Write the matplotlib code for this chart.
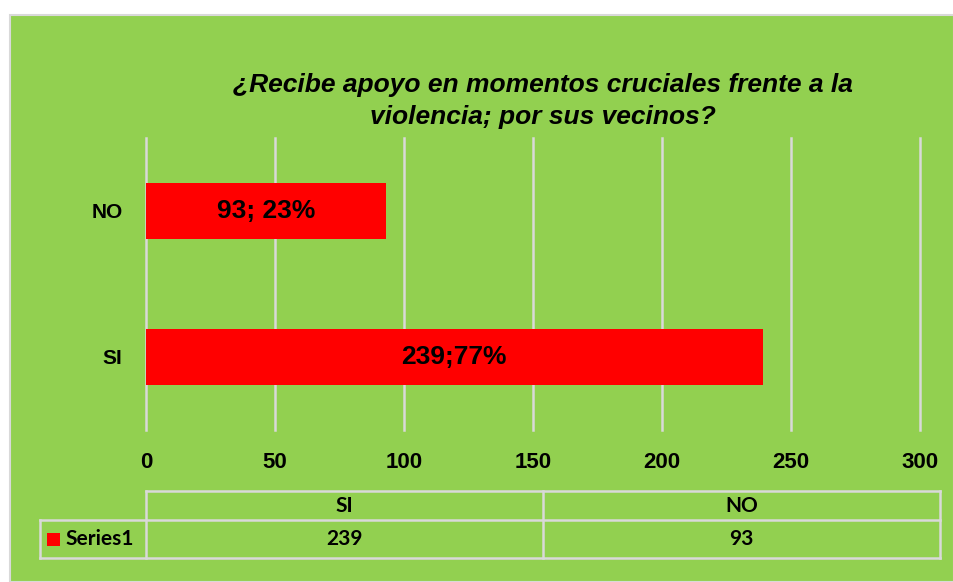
import matplotlib
matplotlib.use("Agg")
import matplotlib.pyplot as plt
from matplotlib.patches import Rectangle
from matplotlib.lines import Line2D

categories = ["SI", "NO"]
values = [239, 93]
bar_labels = ["239;77%", "93; 23%"]
series_name = "Series1"
title = "¿Recibe apoyo en momentos cruciales frente a la\nviolencia; por sus vecinos?"
xticks = [0, 50, 100, 150, 200, 250, 300]

W, H = 954, 582
GREEN = "#92D050"
GRID = "#D9D9D9"
RED = "#FF0000"

fig = plt.figure(figsize=(W / 100, H / 100), dpi=100)
fig.patch.set_facecolor("white")

def fx(px):
    return px / W

def fy(py):
    return 1 - py / H

# green chart area with thin gray border
fig.patches.append(Rectangle((fx(10), 0), 1 - fx(10), fy(15), transform=fig.transFigure,
                             facecolor=GREEN, edgecolor=GRID, linewidth=1.5, zorder=-5))

ax = fig.add_axes([fx(146), fy(430), fx(920) - fx(146), fy(138) - fy(430)])
ax.set_zorder(2)
ax.set_facecolor("none")
ypos = list(range(len(categories)))
ax.barh(ypos, values, height=0.39, color=RED, zorder=3)
ax.set_ylim(-0.5, len(categories) - 0.5)
ax.set_xlim(0, 300)
ax.set_xticks(xticks)
ax.set_xticklabels([str(t) for t in xticks], fontsize=16, fontweight="bold",
                   family=["Liberation Sans", "DejaVu Sans"])
ax.set_yticks(ypos)
ax.set_yticklabels(categories, fontsize=15, fontweight="bold",
                   family=["Liberation Sans", "DejaVu Sans"])
ax.tick_params(axis="x", length=0, pad=16)
ax.tick_params(axis="y", length=0, pad=17)
for s in ax.spines.values():
    s.set_visible(False)
ax.xaxis.grid(True, color=GRID, linewidth=1.8, zorder=1)
for gl in ax.get_xgridlines():
    gl.set_clip_on(False)
ax.set_axisbelow(True)

for y, v, lab in zip(ypos, values, bar_labels):
    ax.text(v / 2, y, lab, ha="center", va="center", fontsize=19, fontweight="bold",
            family=["Liberation Sans", "DejaVu Sans"], zorder=4)

fig.text(fx(543), fy(101), title, ha="center", va="center", fontsize=19,
         fontweight="bold", fontstyle="italic", linespacing=1.42,
         family=["Liberation Sans", "DejaVu Sans"])

# data table
lw = 1.8
def hline(x0, x1, y):
    fig.lines.append(Line2D([fx(x0), fx(x1)], [fy(y), fy(y)], transform=fig.transFigure,
                            color=GRID, linewidth=lw))

def vline(x, y0, y1):
    fig.lines.append(Line2D([fx(x), fx(x)], [fy(y0), fy(y1)], transform=fig.transFigure,
                            color=GRID, linewidth=lw))

hline(146, 940, 491)
hline(40, 940, 520)
hline(40, 940, 558)
vline(40, 520, 558)
vline(146, 491, 558)
vline(543, 491, 558)
vline(940, 491, 558)

tfont = dict(fontsize=15, fontweight="bold", family=["Lato", "DejaVu Sans"])
col_centers = [344.5, 741.5]
# table columns follow the category order SI, NO
for cx, cat, v in zip(col_centers, categories, values):
    fig.text(fx(cx), fy(505.5), cat, ha="center", va="center", **tfont)
    fig.text(fx(cx), fy(539), str(v), ha="center", va="center", **tfont)

fig.patches.append(Rectangle((fx(47), fy(546)), fx(13), fy(533) - fy(546),
                             transform=fig.transFigure, facecolor=RED, edgecolor="none"))
fig.text(fx(65), fy(539), series_name, ha="left", va="center", **tfont)

fig.savefig("out.png", dpi=100, facecolor=fig.get_facecolor())
